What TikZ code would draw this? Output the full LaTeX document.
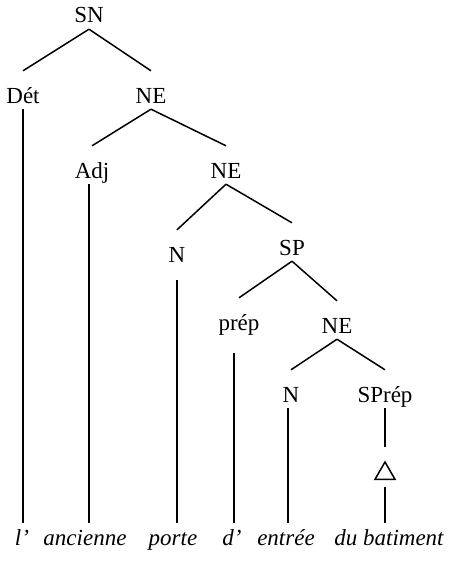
\documentclass[tikz,border=0pt]{standalone}
\usepackage{fontspec}
\setmainfont{Liberation Serif}
\usetikzlibrary{shapes.geometric}
\tikzset{
  lbl/.style={font=\fontsize{23}{26}\selectfont, inner sep=0pt, anchor=base,
              text height=32pt, text depth=6pt},
  word/.style={font=\fontsize{23}{26}\selectfont\itshape, inner sep=0pt, anchor=base,
               text height=22pt, text depth=4pt},
  br/.style={line width=1.5pt},
  tri/.style={draw, line width=1.5pt, regular polygon, regular polygon sides=3,
              minimum size=23pt, inner sep=0pt}
}
\begin{document}
\begin{tikzpicture}[x=1pt,y=-1pt]
\useasboundingbox (0,0) rectangle (449,562);
% labels
\node[lbl] (SN)    at (89,23)   {SN};
\node[lbl] (Det)   at (23,103)  {Dét};
\node[lbl] (NEa)   at (151,103) {NE};
\node[lbl] (Adj)   at (92,178)  {Adj};
\node[lbl] (NEb)   at (226,178) {NE};
\node[lbl] (Na)    at (177,262) {N};
\node[lbl] (SP)    at (292,255) {SP};
\node[lbl] (prep)  at (239,330) {prép};
\node[lbl] (NEc)   at (337,333) {NE};
\node[lbl] (Nb)    at (291,402) {N};
\node[lbl] (SPrep) at (385,402) {SPrép};
\node[tri] (tri)   at (385,473.5) {};
% words
\node[word] (w1) at (22,545)  {l'};
\node[word] (w2) at (85,545)  {ancienne};
\node[word] (w3) at (173,545) {porte};
\node[word] (w4) at (232,545) {d'};
\node[word] (w5) at (286,545) {entrée};
\node[word] (w6) at (389,545) {du batiment};
% branches
\draw[br] (SN.south) -- (Det.north);
\draw[br] (SN.south) -- (NEa.north);
\draw[br] (NEa.south) -- (Adj.north);
\draw[br] (NEa.south) -- (NEb.north);
\draw[br] (NEb.south) -- (Na.north);
\draw[br] (NEb.south) -- (SP.north);
\draw[br] (SP.south) -- (prep.north);
\draw[br] (SP.south) -- (NEc.north);
\draw[br] (NEc.south) -- (Nb.north);
\draw[br] (NEc.south) -- (SPrep.north);
% vertical lines to words
\draw[br] (Det.south) -- (Det.south |- w1.north);
\draw[br] ([xshift=-3pt]Adj.south) -- ([xshift=-3pt]Adj.south |- w2.north);
\draw[br, shorten <=12pt] (Na.south) -- (Na.south |- w3.north);
\draw[br, shorten <=17pt] ([xshift=-5pt]prep.south) -- ([xshift=-5pt]prep.south |- w4.north);
\draw[br] ([xshift=-3pt]Nb.south) -- ([xshift=-3pt]Nb.south |- w5.north);
\draw[br, shorten >=14pt] (SPrep.south) -- (tri.north);
\draw[br, shorten <=7pt] (tri.south) -- (tri.south |- w6.north);
\end{tikzpicture}
\end{document}
